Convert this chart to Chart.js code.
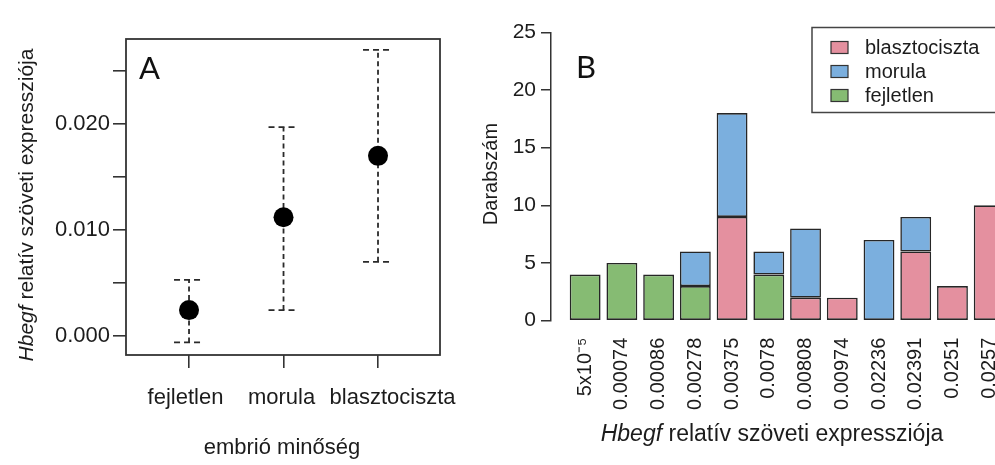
<!DOCTYPE html>
<html>
<head>
<meta charset="utf-8">
<script src="https://cdn.jsdelivr.net/npm/chart.js@4/dist/chart.umd.min.js"></script>
<style>
  html, body { margin: 0; padding: 0; background: #fff; width: 995px; height: 465px; overflow: hidden; position: relative; }
  #panelA { position: absolute; left: 0; top: 0; }
  #panelB { position: absolute; left: 480px; top: 0; }
</style>
</head>
<body>
<canvas id="panelA" width="480" height="465"></canvas>
<canvas id="panelB" width="600" height="465"></canvas>
<script>
const FONT = "'Liberation Sans', Arial, sans-serif";
const PANEL_FONT = "Lato, 'Open Sans', sans-serif";
const INK = '#1c1c1c';

// ---- Panel A: mean expression per embryo stage, with interval bars ----
const stages = ['fejletlen', 'morula', 'blasztociszta'];
const stageMeans = [0.00245, 0.0112, 0.0170];
const stageLower = [-0.0006, 0.00245, 0.0070];
const stageUpper = [0.0053, 0.0197, 0.0270];
const aTickValues = [0, 0.005, 0.010, 0.015, 0.020, 0.025];
const aTickLabels = ['0.000', '', '0.010', '', '0.020', ''];

// ---- Panel B: counts per expression level, by embryo stage ----
const exprLabels = ['5x10⁻⁵', '0.00074', '0.00086', '0.00278', '0.00375', '0.0078',
                    '0.00808', '0.00974', '0.02236', '0.02391', '0.0251', '0.0257'];
const countFejletlen     = [4, 5, 4, 3, 0, 4, 0, 0, 0, 0, 0, 0];
const countBlasztociszta = [0, 0, 0, 0, 9, 0, 2, 2, 0, 6, 3, 10];
const countMorula        = [0, 0, 0, 3, 9, 2, 6, 0, 7, 3, 0, 0];
const bTickValues = [0, 5, 10, 15, 20, 25];

const COLORS = { fejletlen: '#86BB73', blasztociszta: '#E4909F', morula: '#7BAFDE' };

// Draws a centred string made of italic / upright pieces, optionally rotated.
function drawMixed(ctx, parts, x, y, size, angle) {
  ctx.save();
  ctx.translate(x, y);
  ctx.rotate(angle || 0);
  ctx.textAlign = 'left';
  ctx.textBaseline = 'alphabetic';
  ctx.fillStyle = INK;
  let total = 0;
  const widths = parts.map(p => {
    ctx.font = (p.italic ? 'italic ' : '') + size + 'px ' + FONT;
    const w = ctx.measureText(p.text).width;
    total += w;
    return w;
  });
  let cx = -total / 2;
  parts.forEach((p, i) => {
    ctx.font = (p.italic ? 'italic ' : '') + size + 'px ' + FONT;
    ctx.fillText(p.text, cx, 0);
    cx += widths[i];
  });
  ctx.restore();
}

const exprTitle = [{ text: 'Hbegf', italic: true }, { text: ' relatív szöveti expressziója' }];

// Dashed interval bars with dashed caps
const intervalBars = {
  id: 'intervalBars',
  beforeDatasetsDraw(chart) {
    const { ctx, scales: { x, y } } = chart;
    ctx.save();
    ctx.strokeStyle = '#2a2a2a';
    ctx.lineWidth = 1.8;
    stages.forEach((s, i) => {
      const px = x.getPixelForValue(i + 1);
      const lo = y.getPixelForValue(stageLower[i]);
      const hi = y.getPixelForValue(stageUpper[i]);
      ctx.setLineDash([5, 3.5]);
      ctx.beginPath(); ctx.moveTo(px, lo); ctx.lineTo(px, hi); ctx.stroke();
      ctx.setLineDash([6, 4]);
      [lo, hi].forEach(py => {
        ctx.beginPath(); ctx.moveTo(px - 15, py); ctx.lineTo(px + 15, py); ctx.stroke();
      });
    });
    ctx.restore();
  }
};

// Stage names under the tick marks, nudged apart so the long name clears its neighbour
const stageNudge = [-3.5, -2, 14.5];

const frameAndTitlesA = {
  id: 'frameAndTitlesA',
  afterDraw(chart) {
    const { ctx, chartArea: a, scales: { x } } = chart;
    ctx.save();
    ctx.strokeStyle = '#333';
    ctx.lineWidth = 1.8;
    ctx.strokeRect(a.left, a.top, a.right - a.left, a.bottom - a.top);
    ctx.fillStyle = INK;
    ctx.font = '22px ' + FONT;
    ctx.textAlign = 'center';
    ctx.textBaseline = 'alphabetic';
    stages.forEach((s, i) => {
      ctx.fillText(s, x.getPixelForValue(i + 1) + stageNudge[i], a.bottom + 49);
    });
    ctx.textAlign = 'left';
    ctx.fillStyle = '#111';
    ctx.font = '31px ' + PANEL_FONT;
    ctx.fillText('A', 139, 79);
    ctx.restore();
    drawMixed(ctx, exprTitle, 33, 205, 21, -Math.PI / 2);
    drawMixed(ctx, [{ text: 'embrió minőség' }], 282, 454, 22, 0);
  }
};

new Chart(document.getElementById('panelA'), {
  type: 'scatter',
  data: {
    datasets: [{
      data: stages.map((s, i) => ({ x: i + 1, y: stageMeans[i] })),
      pointRadius: 10,
      pointHoverRadius: 10,
      backgroundColor: '#000',
      borderWidth: 0
    }]
  },
  options: {
    responsive: false,
    animation: false,
    events: [],
    layout: { padding: { top: 39, right: 40, left: 0, bottom: 0 } },
    plugins: { legend: { display: false }, tooltip: { enabled: false } },
    scales: {
      x: {
        type: 'linear', min: 0.333, max: 3.656,
        afterBuildTicks(s) { s.ticks = stages.map((_, i) => ({ value: i + 1 })); },
        afterFit(s) { s.height = 110; },
        grid: { drawOnChartArea: false, drawTicks: true, tickLength: 13, color: '#333', lineWidth: 1.6 },
        border: { display: false },
        ticks: { callback: () => '', maxRotation: 0, autoSkip: false }
      },
      y: {
        min: -0.00179, max: 0.02802,
        afterBuildTicks(s) { s.ticks = aTickValues.map(v => ({ value: v })); },
        afterFit(s) { s.width = 126; },
        grid: { drawOnChartArea: false, drawTicks: true, tickLength: 13, color: '#333', lineWidth: 1.6 },
        border: { display: false },
        ticks: {
          callback: (v, i) => aTickLabels[i],
          font: { family: FONT, size: 22 }, color: INK, padding: 3, autoSkip: false
        }
      }
    }
  },
  plugins: [intervalBars, frameAndTitlesA]
});

// ---- Panel B ----
const legendOrder = [1, 2, 0];

const legendAndTitlesB = {
  id: 'legendAndTitlesB',
  afterDraw(chart) {
    const ctx = chart.ctx;
    ctx.save();
    ctx.strokeStyle = '#444';
    ctx.lineWidth = 1.5;
    ctx.strokeRect(332, 27.5, 300, 85);
    legendOrder.forEach((di, k) => {
      const ds = chart.data.datasets[di];
      const cy = 47.5 + 24 * k;
      ctx.fillStyle = ds.backgroundColor;
      ctx.fillRect(351, cy - 6, 17, 12);
      ctx.strokeStyle = '#333';
      ctx.lineWidth = 1.2;
      ctx.strokeRect(351, cy - 6, 17, 12);
      ctx.fillStyle = INK;
      ctx.font = '20px ' + FONT;
      ctx.textBaseline = 'alphabetic';
      ctx.fillText(ds.label, 385, cy + 6);
    });
    ctx.fillStyle = '#111';
    ctx.font = '31px ' + PANEL_FONT;
    ctx.fillText('B', 96, 78);
    ctx.restore();
    drawMixed(ctx, [{ text: 'Darabszám' }], 17, 174, 20, -Math.PI / 2);
    drawMixed(ctx, exprTitle, 292, 441, 23, 0);
  }
};

function barSeries(label, counts, color) {
  return {
    label,
    data: counts.map((v, i) => ({ x: i, y: v || null })),
    backgroundColor: color,
    borderColor: '#262626',
    borderWidth: 1.6,
    borderSkipped: false,
    barPercentage: 0.84,
    categoryPercentage: 1.0
  };
}

new Chart(document.getElementById('panelB'), {
  type: 'bar',
  data: {
    datasets: [
      barSeries('fejletlen', countFejletlen, COLORS.fejletlen),
      barSeries('blasztociszta', countBlasztociszta, COLORS.blasztociszta),
      barSeries('morula', countMorula, COLORS.morula)
    ]
  },
  options: {
    responsive: false,
    animation: false,
    events: [],
    layout: { padding: { top: 32.3, right: 10, left: 0, bottom: 0 } },
    plugins: { legend: { display: false }, tooltip: { enabled: false } },
    scales: {
      x: {
        type: 'linear', stacked: true, offset: false, min: -0.93, max: 13.2,
        afterBuildTicks(s) { s.ticks = exprLabels.map((_, i) => ({ value: i })); },
        afterFit(s) { s.height = 144.3; },
        grid: { display: false },
        border: { display: false },
        ticks: {
          callback: (v, i) => exprLabels[i],
          minRotation: 90, maxRotation: 90, autoSkip: false,
          font: { family: FONT, size: 20 }, color: INK, padding: 9
        }
      },
      y: {
        stacked: true, min: 0, max: 25,
        afterBuildTicks(s) { s.ticks = bTickValues.map(v => ({ value: v })); },
        afterFit(s) { s.width = 71; },
        grid: { drawOnChartArea: false, drawTicks: true, tickLength: 10, color: '#333', lineWidth: 1.5 },
        border: { display: true, color: '#333', width: 1.5 },
        ticks: { font: { family: FONT, size: 21 }, color: INK, padding: 5 }
      }
    }
  },
  plugins: [legendAndTitlesB]
});
</script>
</body>
</html>
